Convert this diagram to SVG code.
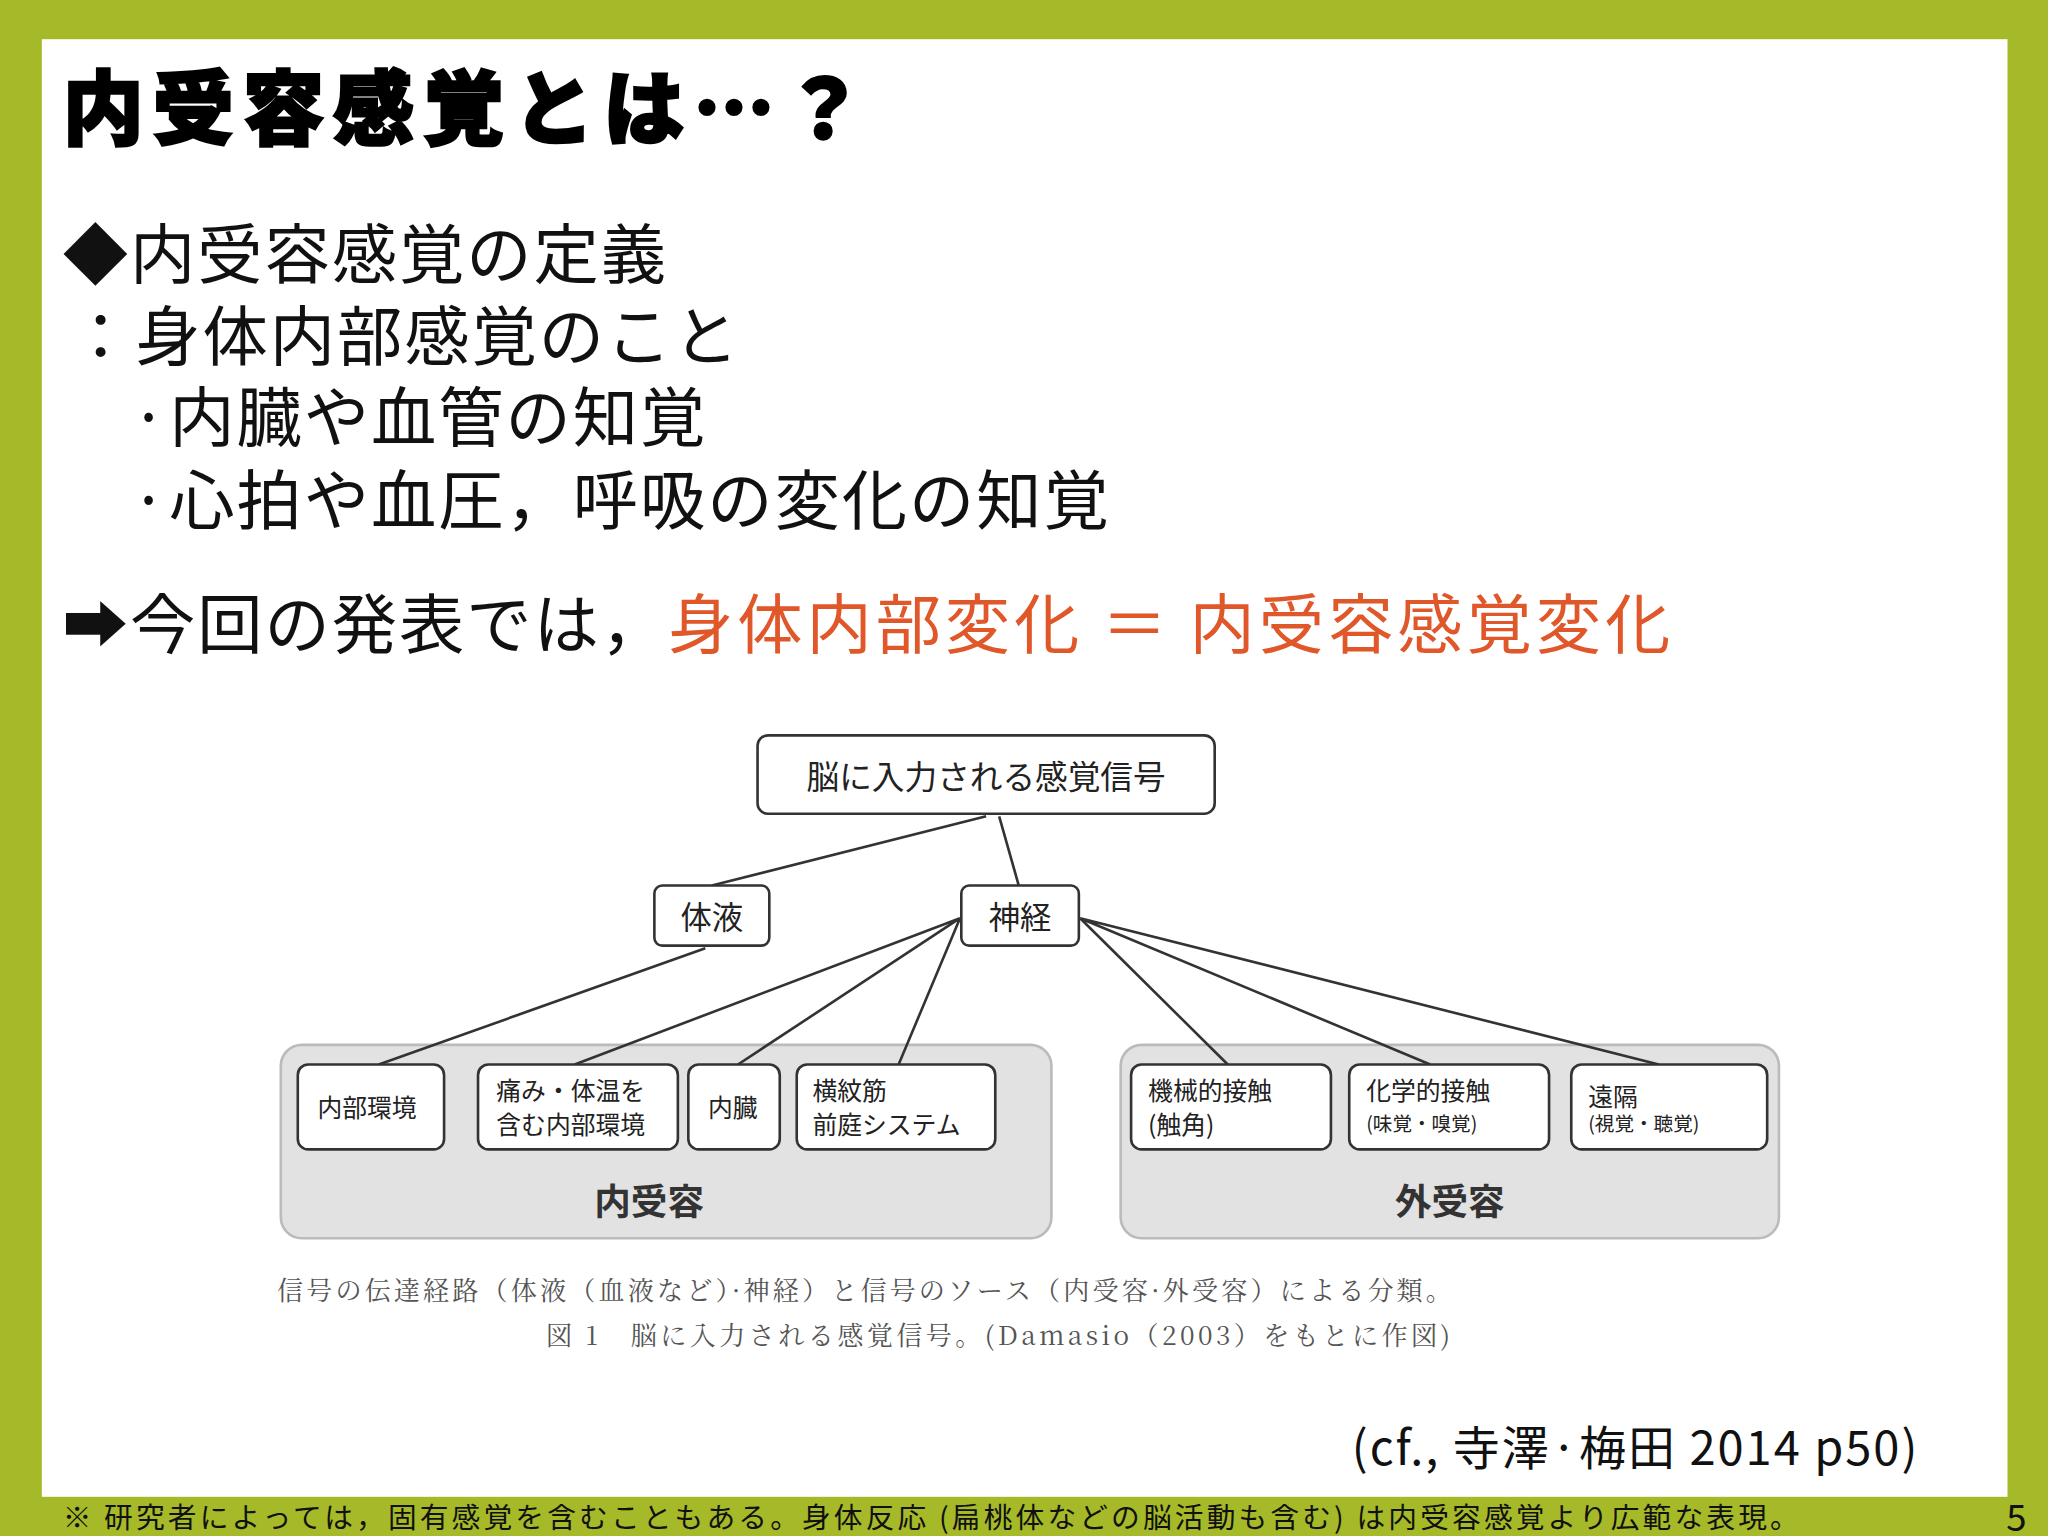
<svg xmlns="http://www.w3.org/2000/svg" width="2048" height="1536" viewBox="0 0 2048 1536">
<style>
.s{font-family:"Noto Sans CJK JP","Noto Sans",sans-serif;}
.m{font-size:50px;fill:#111;letter-spacing:1.5px;}
.b{fill:#fff;stroke:#333;stroke-width:2;}
.bt{font-size:19px;fill:#222;}
.c{stroke:#333;stroke-width:2;fill:none;}
.p{fill:#e2e2e2;stroke:#bbb;stroke-width:2;}
.cap{font-family:"Noto Serif CJK JP","Noto Sans CJK JP",serif;font-size:20px;fill:#555;}
</style>
<rect width="2048" height="1536" fill="#a6b928"/>
<g transform="scale(1.30612)">
<rect x="32" y="30" width="1505" height="1116" fill="#fff"/>
<text class="s" x="48" y="106" font-size="62" font-weight="900" fill="#000" stroke="#000" stroke-width="2" letter-spacing="7">内受容感覚とは…？</text>
<text class="s m" x="48" y="213">◆内受容感覚の定義</text>
<text class="s m" x="52" y="276">：身体内部感覚のこと</text>
<text class="s m" x="100" y="338">·内臓や血管の知覚</text>
<text class="s m" x="100" y="401">·心拍や血圧，呼吸の変化の知覚</text>
<text class="s m" x="48" y="496">➡今回の発表では，<tspan fill="#e0572a" letter-spacing="3">身体内部変化 ＝ 内受容感覚変化</tspan></text>
<g id="panel-in"><rect class="p" x="215" y="800" width="590" height="148" rx="16"/><text class="s" x="497" y="930" font-size="28" font-weight="bold" fill="#333" text-anchor="middle">内受容</text></g>
<g id="panel-ex"><rect class="p" x="858" y="800" width="504" height="148" rx="16"/><text class="s" x="1110" y="930" font-size="28" font-weight="bold" fill="#333" text-anchor="middle">外受容</text></g>
<g id="connectors">
<path class="c" d="M755 625L545 678M765 625L780 678M540 726L290 815M735 703L440 815M735 703L565 815M735 703L688 815M827 703L940 815M827 703L1095 815M827 703L1270 815"/>
</g>
<g id="top"><rect class="b" x="580" y="563" width="350" height="60" rx="8"/><text class="s" x="755" y="604" font-size="25" fill="#222" text-anchor="middle">脳に入力される感覚信号</text></g>
<g id="taieki"><rect class="b" x="501" y="678" width="88" height="46" rx="6"/><text class="s" x="545" y="711" font-size="24" fill="#222" text-anchor="middle">体液</text></g>
<g id="shinkei"><rect class="b" x="736" y="678" width="90" height="46" rx="6"/><text class="s" x="781" y="711" font-size="24" fill="#222" text-anchor="middle">神経</text></g>
<g id="n1"><rect class="b" x="228" y="815" width="112" height="65" rx="8"/><text class="s bt" x="243" y="855">内部環境</text></g>
<g id="n2"><rect class="b" x="366" y="815" width="153" height="65" rx="8"/><text class="s bt" x="380" y="842">痛み・体温を</text><text class="s bt" x="380" y="868">含む内部環境</text></g>
<g id="n3"><rect class="b" x="527" y="815" width="70" height="65" rx="8"/><text class="s bt" x="542" y="855">内臓</text></g>
<g id="n4"><rect class="b" x="610" y="815" width="152" height="65" rx="8"/><text class="s bt" x="622" y="842">横紋筋</text><text class="s bt" x="622" y="868">前庭システム</text></g>
<g id="n5"><rect class="b" x="866" y="815" width="153" height="65" rx="8"/><text class="s bt" x="879" y="842">機械的接触</text><text class="s bt" x="879" y="868">(触角)</text></g>
<g id="n6"><rect class="b" x="1033" y="815" width="153" height="65" rx="8"/><text class="s bt" x="1046" y="842">化学的接触</text><text class="s" x="1046" y="866" font-size="15" fill="#222">(味覚・嗅覚)</text></g>
<g id="n7"><rect class="b" x="1203" y="815" width="150" height="65" rx="8"/><text class="s bt" x="1216" y="847">遠隔</text><text class="s" x="1216" y="866" font-size="15" fill="#222">(視覚・聴覚)</text></g>
<text class="cap" x="212" y="995" letter-spacing="2.4">信号の伝達経路（体液（血液など）·神経）と信号のソース（内受容·外受容）による分類。</text>
<text class="cap" x="418" y="1030" letter-spacing="2.6">図 1　脳に入力される感覚信号。(Damasio（2003）をもとに作図)</text>
<text class="s" x="1035" y="1122" font-size="36" fill="#111" letter-spacing="1.5">(cf., 寺澤·梅田 2014 p50)</text>
<text class="s" x="48" y="1170" font-size="22" fill="#111" letter-spacing="2.4">※ 研究者によっては，固有感覚を含むこともある。身体反応 (扁桃体などの脳活動も含む) は内受容感覚より広範な表現。</text>
<text class="s" x="1536" y="1172" font-size="28" fill="#111">5</text>
</g>
</svg>
